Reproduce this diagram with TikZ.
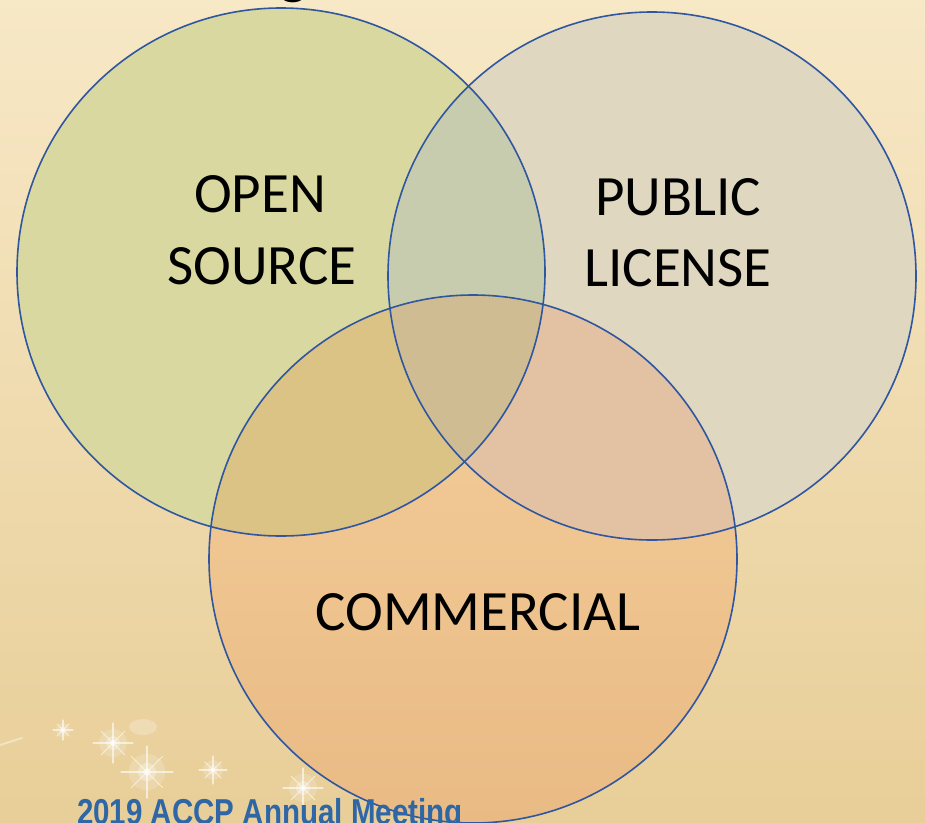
\documentclass[tikz,border=0pt]{standalone}
\usepackage{fontspec}
\setmainfont{Carlito}
\newfontfamily\footfont{Liberation Sans}
\definecolor{bgtop}{HTML}{F7E8C6}
\definecolor{bgmid}{HTML}{F6E3BA}
\definecolor{bgbot}{HTML}{E8CE98}
\definecolor{rimblue}{HTML}{2F56A0}
\definecolor{openfill}{HTML}{D8D8A0}
\definecolor{pubfill}{HTML}{E0D7C0}
\definecolor{comtop}{HTML}{F4CF9C}
\definecolor{commid}{HTML}{F4CD99}
\definecolor{combot}{HTML}{E9BA84}
\definecolor{opubfill}{HTML}{C8CCAE}
\definecolor{ocomfill}{HTML}{DBC386}
\definecolor{pcomfill}{HTML}{E2C2A2}
\definecolor{allfill}{HTML}{D0BC92}
\definecolor{meetblue}{HTML}{2F67A6}
\def\circOpen{(281,272) circle (264)}
\def\circPub{(652,276) circle (264)}
\def\circCom{(473,559) circle (264)}
\tikzset{
    RIM/.style ={draw=rimblue, line width=1.6pt},
    LB/.style ={anchor=base, inner sep=0pt, font=\fontsize{57}{68}\selectfont},
    FT/.style ={anchor=base west, inner sep=0pt, text=meetblue, xscale=0.82,
                font=\footfont\bfseries\fontsize{36}{40}\selectfont},
    SP/.style ={white, line cap=round, opacity=0.6}}

\begin{document}
\begin{tikzpicture}[x=1pt,y=-1pt]
        \useasboundingbox (0,0) rectangle (925,822);
        \shade[top color=bgtop, middle color=bgmid, bottom color=bgbot] (0,0) rectangle (925,822);
        % sparkles in the background
        \fill[white, opacity=0.25] (143,727) ellipse (14 and 8);
        \draw[SP, line width=2pt, opacity=0.4] (0,745) -- (22,738);
        \foreach \sx/\sy/\sr in {63/730/10, 113/743/20, 147/772/26, 213/770/14, 303/788/20}{
            \fill[white, opacity=0.18] (\sx,\sy) circle (\sr*0.7);
            \fill[white, opacity=0.3] (\sx,\sy) circle (\sr*0.35);
            \fill[white, opacity=0.5] (\sx,\sy) circle (\sr*0.15);
            \draw[SP, line width=1.3pt] (\sx-\sr,\sy) -- (\sx+\sr,\sy) (\sx,\sy-\sr) -- (\sx,\sy+\sr);
            \draw[SP, line width=0.8pt] (\sx-\sr*0.6,\sy-\sr*0.6) -- (\sx+\sr*0.6,\sy+\sr*0.6)
                (\sx-\sr*0.6,\sy+\sr*0.6) -- (\sx+\sr*0.6,\sy-\sr*0.6);
        }
        % part of the title
        \node[anchor=south, inner sep=0pt, font=\fontsize{60}{70}\selectfont] (title) at (294,3) {g};
        % circles
        \fill[openfill] \circOpen;
        \fill[pubfill] \circPub;
        \shade[top color=comtop, middle color=commid, bottom color=combot] \circCom;
        \begin{scope}
            \clip \circOpen;
            \fill[opubfill] \circPub;
            \fill[ocomfill] \circCom;
        \end{scope}
        \begin{scope}
            \clip \circPub;
            \fill[pcomfill] \circCom;
            \clip \circCom;
            \fill[allfill] \circOpen;
        \end{scope}
        \draw[RIM] \circOpen;
        \draw[RIM] \circPub;
        \draw[RIM] \circCom;
        % labels
        \node[LB] (open) at (260,212) {OPEN};
        \node[LB] (source) at (262,284) {SOURCE};
        \node[LB] (public) at (678,215) {PUBLIC};
        \node[LB] (license) at (678,286) {LICENSE};
        \node[LB] (commercial) at (478,630) {COMMERCIAL};
        \node[FT] (meeting) at (77,824) {2019 ACCP Annual Meeting};
    \end{tikzpicture}
\end{document}
